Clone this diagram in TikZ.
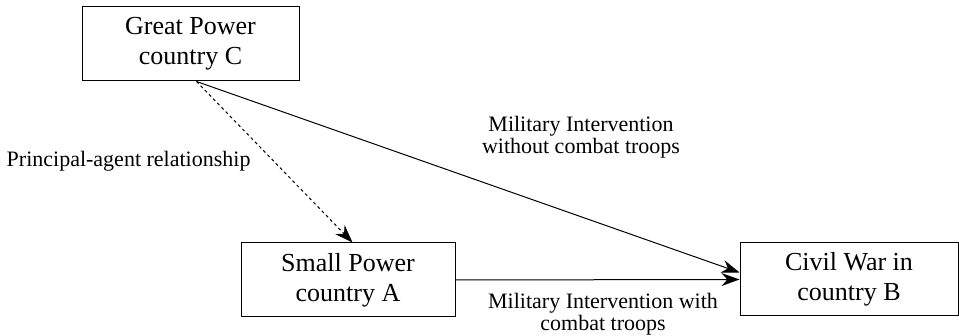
\documentclass[tikz,border=0pt]{standalone}
\usepackage{fontspec}
\setmainfont{Liberation Serif}
\usetikzlibrary{positioning,calc}
\usetikzlibrary{arrows.meta}

\begin{document}
\begin{tikzpicture}[x=1pt, y=1pt,
		actor/.style={rectangle, draw, line width=1pt, align=center, minimum width=217pt, minimum height=74pt, font=\fontsize{26}{30}\selectfont},
		edgelabel/.style={align=center, font=\fontsize{22}{22}\selectfont},
		link/.style={line width=1pt, -{Stealth[length=18pt, width=13pt]}}]
				\useasboundingbox (0,0) rectangle (959,336);
				\node[actor] (great) at (190.5,292) {Great Power\\country C};
				\node[actor, minimum width=214pt] (small) at (348,56) {Small Power\\country A};
				\node[actor, minimum width=218pt, minimum height=73pt] (civil) at (849,56.5) {Civil War in\\country B};
				\coordinate (start) at ($(great.south)+(6,0)$);
				% arrows
				\draw[link, dashed] (start) -- ($(small.north)+(4.5,0)$);
				\draw[link] (start) -- ($(civil.west)+(0,7)$);
				\draw[link] (small.east) -- (civil.west);
				% labels
				\node[edgelabel] (withoutlabel) at (581,198.5) {Military Intervention\\without combat troops};
				\node[edgelabel, anchor=base east] (agentlabel) at (254,169) {Principal-agent relationship};
				\node[edgelabel] (withlabel) at (603,21.5) {Military Intervention with\\combat troops};
			\end{tikzpicture}
\end{document}
